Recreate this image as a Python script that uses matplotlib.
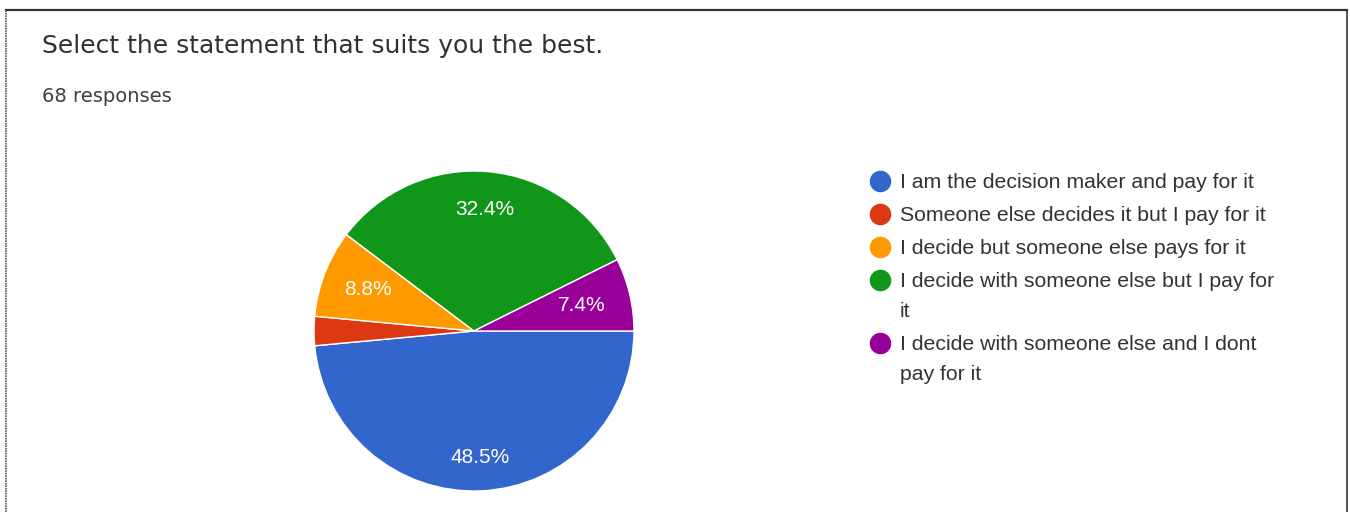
import numpy as np
import matplotlib.pyplot as plt
from matplotlib.lines import Line2D

W, H = 1350, 512

labels = [
    ["I am the decision maker and pay for it"],
    ["Someone else decides it but I pay for it"],
    ["I decide but someone else pays for it"],
    ["I decide with someone else but I pay for", "it"],
    ["I decide with someone else and I dont", "pay for it"],
]
counts = [33, 2, 6, 22, 5]  # 68 responses
colors = ["#3366CC", "#DC3912", "#FF9900", "#109618", "#990099"]
pct_dist = [0.79, 0.7, 0.71, 0.76, 0.69]  # where google put each label

fig = plt.figure(figsize=(W / 100, H / 100), dpi=100)

# frame of the screenshot
fig.add_artist(Line2D([6 / W, 1347 / W], [1 - 10 / H, 1 - 10 / H], color="#333333", lw=1.6))
fig.add_artist(Line2D([6 / W, 6 / W], [0, 1 - 10 / H], color="#555555", lw=1.2, ls=(0, (1, 0.5))))
fig.add_artist(Line2D([1347 / W, 1347 / W], [0, 1 - 10 / H], color="#333333", lw=1.2))

fig.text(42 / W, 1 - 53 / H, "Select the statement that suits you the best.",
         family="DejaVu Sans", fontsize=18, color="#303134", va="baseline")
fig.text(42 / W, 1 - 102 / H, "68 responses",
         family="DejaVu Sans", fontsize=14, color="#3c4043", va="baseline")

# pie
ax = fig.add_axes([314 / W, 1 - 491 / H, 320 / W, 320 / H])
tot = sum(counts)
wedges, _ = ax.pie(counts, colors=colors, startangle=0, counterclock=False,
                   radius=1, wedgeprops=dict(edgecolor="white", linewidth=1))
ax.set_xlim(-1, 1)
ax.set_ylim(-1, 1)
ax.set_aspect("equal")
ax.axis("off")

for w, c, d in zip(wedges, counts, pct_dist):
    p = 100 * c / tot
    if p < 5:
        continue
    a = np.deg2rad((w.theta1 + w.theta2) / 2)
    ax.text(d * np.cos(a), d * np.sin(a), f"{p:.1f}%", ha="center", va="center",
            color="white", family="Liberation Sans", fontsize=15)

# legend
y = 181
for lines, col in zip(labels, colors):
    fig.add_artist(Line2D([880 / W], [1 - y / H], marker="o", ms=14.5, color=col, lw=0))
    for k, t in enumerate(lines):
        fig.text(900 / W, 1 - (y + 7 + 30 * k) / H, t, family="Liberation Sans", fontsize=15.3,
                 color="#333333", va="baseline")
    y += 33 + 30 * (len(lines) - 1)

fig.savefig("out.png", dpi=100)
